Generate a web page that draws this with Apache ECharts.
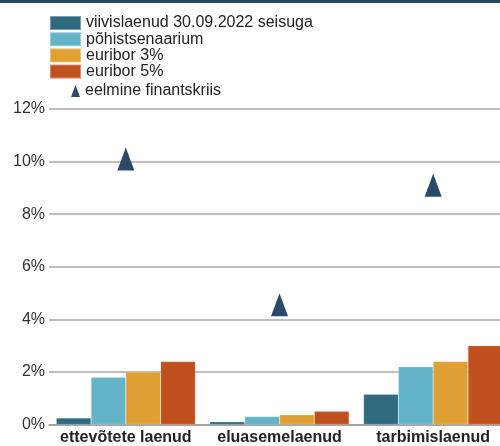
<!DOCTYPE html>
<html>
<head>
<meta charset="utf-8">
<script src="https://cdn.jsdelivr.net/npm/echarts@6/dist/echarts.min.js"></script>
<style>
  html, body { margin: 0; padding: 0; background: #fff; overflow: hidden; width: 500px; height: 446px; }
  /* the plot runs on past the right edge of the frame */
  #chart { width: 510px; height: 446px; }
</style>
</head>
<body>
<div id="chart"></div>
<script>
// Loan categories on the x axis
var categories = ['ettevõtete laenud', 'eluasemelaenud', 'tarbimislaenud'];

// Loan loss rates, %
var seriesNames = ['viivislaenud 30.09.2022 seisuga', 'põhistsenaarium', 'euribor 3%', 'euribor 5%'];
var overdue2022 = [0.25, 0.1, 1.15];
var baseScenario = [1.8, 0.3, 2.2];
var euribor3 = [2.0, 0.37, 2.4];
var euribor5 = [2.4, 0.5, 3.0];

// Previous financial crisis, %
var crisisName = 'eelmine finantskriis';
var previousCrisis = [10.1, 4.55, 9.1];

var yTicks = { min: 0, max: 12, interval: 2 };

var barColors = ['#2e6b80', '#63b3c9', '#e0a033', '#c0511f'];
var barValues = [overdue2022, baseScenario, euribor3, euribor5];

var fontFamily = '"Liberation Sans", Arial, Helvetica, sans-serif';

var series = barValues.map(function (vals, i) {
  return {
    name: seriesNames[i],
    type: 'bar',
    data: vals,
    barGap: '0%',
    barCategoryGap: '9.4%',
    itemStyle: { color: barColors[i], borderColor: 'rgba(255,255,255,0.35)', borderWidth: 0.5 },
    emphasis: { disabled: true }
  };
});

series.push({
  name: crisisName,
  type: 'scatter',
  data: previousCrisis,
  symbol: 'triangle',
  symbolSize: [17, 23],
  itemStyle: { color: '#2b4a6a', opacity: 1 },
  emphasis: { disabled: true },
  z: 5
});

var legendText = { fontSize: 16, color: '#222', lineHeight: 14, fontFamily: fontFamily };

var chart = echarts.init(document.getElementById('chart'), null, { renderer: 'canvas' });
chart.setOption({
  animation: false,
  backgroundColor: '#fff',
  textStyle: { fontFamily: fontFamily },
  graphic: [{
    type: 'rect',
    left: 0, top: 0,
    shape: { width: 510, height: 3 },
    style: { fill: '#2b4862' }
  }],
  legend: [{
    data: seriesNames,
    orient: 'vertical',
    left: 49, top: 15,
    padding: 0,
    itemWidth: 31, itemHeight: 14, itemGap: 0.2,
    icon: 'rect',
    selectedMode: false,
    textStyle: legendText
  }, {
    data: [crisisName],
    orient: 'vertical',
    left: 71, top: 83,
    padding: 0,
    itemWidth: 9, itemHeight: 12,
    selectedMode: false,
    textStyle: legendText
  }],
  grid: { left: 49, top: 109, right: 0, bottom: 21.5, containLabel: false },
  xAxis: {
    type: 'category',
    data: categories,
    axisLine: { lineStyle: { color: '#9a9a9a', width: 1.5 } },
    axisTick: { inside: true, length: 7, lineStyle: { color: '#8a8a8a', width: 1.5 } },
    axisLabel: { interval: 0, fontSize: 16, fontWeight: 'bold', color: '#222', margin: 5, fontFamily: fontFamily }
  },
  yAxis: {
    type: 'value',
    min: yTicks.min, max: yTicks.max, interval: yTicks.interval,
    axisLine: { show: false },
    axisTick: { show: false },
    axisLabel: { formatter: '{value}%', fontSize: 16, color: '#333', margin: 4, fontFamily: fontFamily },
    splitLine: { lineStyle: { color: '#a8a8a8', width: 1.5 } }
  },
  series: series
});
</script>
</body>
</html>
